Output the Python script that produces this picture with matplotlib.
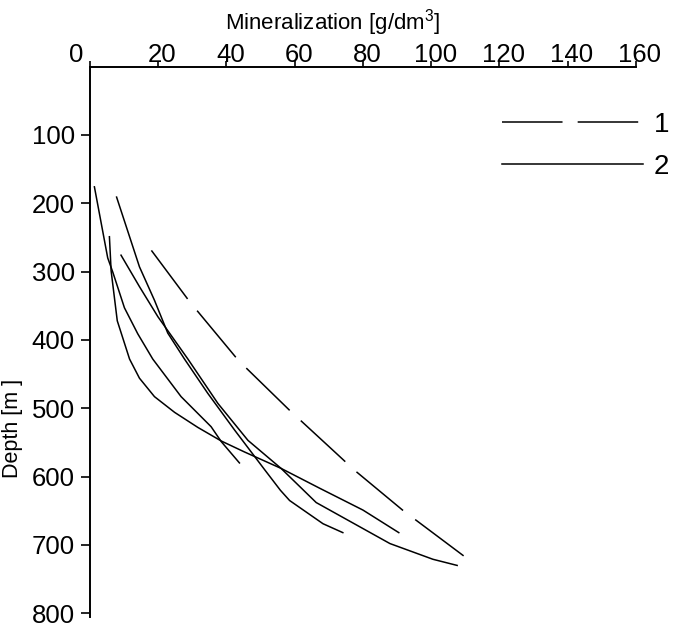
import numpy as np
import matplotlib
matplotlib.use("Agg")
import matplotlib.pyplot as plt
import matplotlib.transforms as mtransforms

# digitised curves: mineralization [g/dm3] against depth [m]
# curve 1 (dashed)
mineral_1 = [18.0, 29.2, 43.5, 58.5, 71.1, 77.6, 91.6, 109.5]
depth_1 = [269, 344, 430, 503, 561, 591, 649, 716]

# curves 2 (solid)
mineral_2a = [1.3, 5.2, 6.7, 10.1, 14.0, 18.4, 26.7, 35.5, 38.5, 43.8]
depth_2a = [176, 280, 301, 353, 391, 428, 483, 527, 549, 580]

mineral_2b = [5.7, 6.2, 8.0, 11.6, 14.5, 18.9, 24.8, 31.6, 38.5, 45.3, 56.0, 67.3, 80.0, 90.5]
depth_2b = [249, 299, 372, 428, 456, 483, 506, 528, 548, 564, 588, 617, 649, 682]

mineral_2c = [7.8, 14.5, 18.9, 22.8, 27.7, 34.5, 42.4, 51.2, 55.8, 58.5, 68.3, 74.1]
depth_2c = [191, 293, 342, 390, 428, 478, 532, 590, 620, 635, 669, 682]

mineral_2d = [9.1, 14.5, 19.9, 28.7, 37.5, 46.3, 56.0, 66.3, 87.9, 100.5, 107.6]
depth_2d = [276, 322, 366, 428, 493, 547, 588, 638, 698, 721, 730]

x_ticks = [0, 20, 40, 60, 80, 100, 120, 140, 160]
y_ticks = [100, 200, 300, 400, 500, 600, 700, 800]
legend_labels = ["1", "2"]

plt.rcParams["font.family"] = ["Liberation Sans", "DejaVu Sans"]
plt.rcParams["mathtext.default"] = "regular"

fig = plt.figure(figsize=(6.79, 6.31), dpi=100)
ax = fig.add_axes([0.1325, 0.0227, 0.8041, 0.8718])
ax.set_xlim(0, 160)
ax.set_ylim(805, 0)

lw = 1.1
# fit the dash pattern so the line shows 6 dashes with full ends
pix = ax.transData.transform(np.column_stack([mineral_1, depth_1]))
length_pt = np.sum(np.hypot(*np.diff(pix, axis=0).T)) * 72 / fig.dpi
k = length_pt / (lw * (6 * 40 + 5 * 10))
dash = (0, (40 * k, 10 * k))

ax.plot(mineral_1, depth_1, color="k", lw=lw, linestyle=dash,
        label=legend_labels[0])
ax.plot(mineral_2a, depth_2a, color="k", lw=lw, label=legend_labels[1])
for xs, ys in [(mineral_2b, depth_2b), (mineral_2c, depth_2c), (mineral_2d, depth_2d)]:
    ax.plot(xs, ys, color="k", lw=lw)

ax.spines["right"].set_visible(False)
ax.spines["bottom"].set_visible(False)
ax.spines["left"].set_linewidth(1.4)
ax.spines["top"].set_linewidth(1.4)

ax.xaxis.tick_top()
ax.set_xticks(x_ticks)
ax.set_yticks(y_ticks)
ax.tick_params(axis="x", direction="out", length=4.3, width=1.2, pad=-4.5,
               labelsize=18.5)
ax.tick_params(axis="y", direction="out", length=6.5, width=1.2, pad=4.3,
               labelsize=18.5)

# labels sit a little right of their ticks, the 0 one left of the axis
for i, lbl in enumerate(ax.get_xticklabels()):
    dx = -13.5 if i == 0 else 4
    lbl.set_transform(lbl.get_transform() +
                      mtransforms.ScaledTranslation(dx / 100, 0, fig.dpi_scale_trans))

ax.xaxis.set_label_position("top")
ax.set_xlabel(r"Mineralization [g/dm$^{3}$]", fontsize=16)
ax.xaxis.set_label_coords(0.445, 1.068)
ax.set_ylabel("Depth [m ]", fontsize=15.5)
ax.yaxis.set_label_coords(-0.122, 0.343)

ax.legend(loc="center left", bbox_to_anchor=(0.7546, 0.8555), frameon=False,
          fontsize=20, handlelength=5.07, handletextpad=0.4,
          labelspacing=0.58, borderpad=0, borderaxespad=0)

fig.savefig("out.png", dpi=100)
